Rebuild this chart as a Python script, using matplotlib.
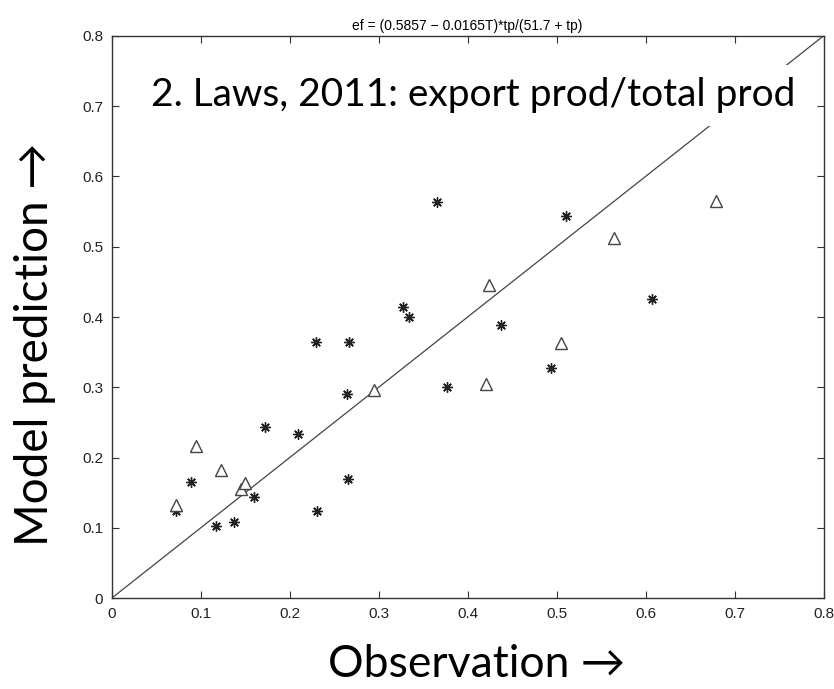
import matplotlib
matplotlib.use('Agg')
import matplotlib.pyplot as plt

# observed vs model export ratio, two groups of sites
obs_star = [0.072, 0.089, 0.117, 0.138, 0.160, 0.172, 0.210, 0.231, 0.230, 0.267,
            0.264, 0.266, 0.327, 0.334, 0.366, 0.377, 0.438, 0.494, 0.511, 0.607]
mod_star = [0.124, 0.165, 0.103, 0.108, 0.144, 0.244, 0.234, 0.124, 0.365, 0.365,
            0.291, 0.170, 0.414, 0.400, 0.563, 0.300, 0.389, 0.327, 0.544, 0.425]
obs_tri = [0.072, 0.095, 0.123, 0.146, 0.150, 0.295, 0.421, 0.424, 0.505, 0.564, 0.679]
mod_tri = [0.133, 0.216, 0.183, 0.156, 0.164, 0.296, 0.305, 0.445, 0.363, 0.512, 0.565]

ticks = [0, 0.1, 0.2, 0.3, 0.4, 0.5, 0.6, 0.7, 0.8]
tick_labels = ['0', '0.1', '0.2', '0.3', '0.4', '0.5', '0.6', '0.7', '0.8']

plt.rcParams['font.family'] = ['Liberation Sans', 'DejaVu Sans']

fig = plt.figure(figsize=(8.34, 6.89), dpi=100)
ax = fig.add_axes([0.1337, 0.1316, 0.854, 0.8166])

# 1:1 line
ax.plot([0, 0.8], [0, 0.8], color='#444444', lw=0.9, zorder=1)
ax.plot(obs_star, mod_star, linestyle='none', marker=(8, 2, 0), ms=7.5,
        mec='#222222', mew=1.0, zorder=3)
ax.plot(obs_tri, mod_tri, linestyle='none', marker='^', ms=9,
        mfc='white', mec='#444444', mew=1.0, zorder=3)

ax.set_xlim(0, 0.8)
ax.set_ylim(0, 0.8)
ax.set_xticks(ticks)
ax.set_xticklabels(tick_labels)
ax.set_yticks(ticks)
ax.set_yticklabels(tick_labels)
ax.tick_params(direction='in', top=True, right=True, length=5, width=0.8,
               labelsize=11, colors='#333333', labelcolor='#222222', pad=6)
for s in ax.spines.values():
    s.set_color('#333333')
    s.set_linewidth(1.0)

ax.set_title('ef = (0.5857 \u2212 0.0165T)*tp/(51.7 + tp)', fontsize=10, pad=4)

big = ['Lato', 'DejaVu Sans']
ax.text(0.406, 0.715, '2. Laws, 2011: export prod/total prod', family=big,
        fontsize=28, ha='center', va='center', zorder=5,
        bbox=dict(facecolor='white', edgecolor='none', pad=9))
fig.text(0.042, 0.5, 'Model prediction \u2192', family=big, fontsize=33,
         rotation=90, ha='center', va='center')
fig.text(0.572, 0.035, 'Observation \u2192', family=big, fontsize=32,
         ha='center', va='center')

fig.savefig('out.png', dpi=100)
